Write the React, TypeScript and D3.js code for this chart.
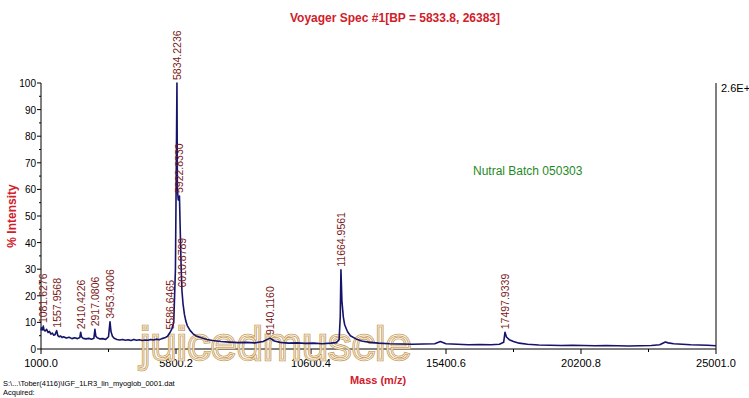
import React from 'react';
import { scaleLinear, line, range } from 'd3';

// spectrum trace (mass, % intensity)
const masses = [
    1000, 1020, 1050, 1081.6, 1110, 1150, 1200, 1250, 1300, 1350, 1400, 1450, 1500,
    1557.9, 1600, 1650, 1700, 1750, 1800, 1900, 2000, 2100, 2200, 2300, 2380, 2410.4,
    2440, 2500, 2600, 2700, 2800, 2880, 2917.1, 2950, 3000, 3100, 3200, 3300, 3400,
    3453.4, 3490, 3540, 3600, 3700, 3800, 3900, 4000, 4100, 4200, 4300, 4400, 4500,
    4600, 4700, 4800, 4900, 5000, 5100, 5200, 5300, 5400, 5500, 5586.6, 5650, 5720,
    5780, 5800, 5834.2, 5850, 5880, 5922.8, 5950, 5980, 6010.9, 6050, 6100, 6150, 6200,
    6300, 6400, 6500, 6700, 6900, 7100, 7400, 7700, 8000, 8300, 8600, 8900, 9140.1,
    9300, 9500, 9800, 10100, 10400, 10700, 11000, 11300, 11500, 11600, 11640, 11664.9,
    11700, 11750, 11800, 11900, 12000, 12200, 12400, 12700, 13000, 13400, 13800, 14200,
    14600, 15000, 15200, 15400, 15800, 16200, 16600, 17000, 17300, 17450, 17497.9,
    17550, 17650, 17800, 18000, 18300, 18700, 19100, 19500, 19900, 20300, 20700, 21100,
    21500, 21900, 22300, 22700, 23000, 23200, 23300, 23500, 23800, 24100, 24400, 24700,
    25001,
];
const intensities = [
    7.0, 8.0, 7.2, 8.6, 7.0, 6.8, 7.4, 6.2, 6.6, 5.6, 6.0, 5.2, 5.4,
    6.9, 5.0, 4.6, 4.9, 4.3, 4.6, 4.1, 4.4, 3.9, 4.2, 3.9, 4.3, 6.3,
    4.6, 4.0, 3.8, 4.0, 3.7, 4.0, 7.4, 4.8, 4.2, 3.8, 3.9, 3.6, 4.6,
    10.2, 6.5, 4.8, 4.0, 3.6, 3.4, 3.6, 3.3, 3.5, 3.2, 3.6, 3.3, 3.5,
    3.2, 3.4, 3.3, 3.6, 3.4, 3.7, 3.5, 3.9, 4.2, 4.8, 6.2, 7.5, 10,
    30, 55, 100, 60, 56, 57.5, 45, 32, 22, 17, 13, 10.5, 8.8,
    7.0, 5.8, 5.0, 4.2, 3.6, 3.2, 2.8, 2.6, 2.4, 2.5, 2.3, 2.8, 4.1,
    3.0, 2.5, 2.2, 2.3, 2.1, 2.2, 2.0, 2.2, 2.4, 3.5, 12, 29.8,
    18, 12, 9, 6.5, 5.0, 3.8, 3.0, 2.5, 2.2, 2.0, 1.9, 1.8,
    1.9, 2.0, 2.8, 2.0, 1.8, 1.6, 1.7, 1.6, 1.8, 2.5, 6.3,
    4.5, 3.5, 2.8, 2.2, 1.8, 1.5, 1.4, 1.3, 1.4, 1.3, 1.2, 1.3,
    1.2, 1.1, 1.2, 1.3, 1.6, 2.6, 2.3, 2.0, 1.8, 1.6, 1.5, 1.4,
    1.2,
];

// labelled peaks
const peakLabels = [
    '1081.6276', '1557.9568', '2410.4226', '2917.0806', '3453.4006', '5586.6465',
    '5834.2236', '5922.8330', '6010.8789', '9140.1160', '11664.9561', '17497.9339',
];
const peakHeights = [8.6, 6.9, 6.3, 7.4, 10.2, 6.2, 100, 57.5, 22, 4.1, 29.8, 6.3];

const xTicks = [1000.0, 5800.2, 10600.4, 15400.6, 20200.8, 25001.0];
const yTicks = [0, 10, 20, 30, 40, 50, 60, 70, 80, 90, 100];

const FONT = '"Liberation Sans", Arial, Helvetica, sans-serif';

export default function App() {
    const W = 749;
    const H = 398;
    const left = 41;
    const right = 716;
    const top = 83;
    const bottom = 349;

    const x = scaleLinear().domain([1000, 25001]).range([left, right]);
    const y = scaleLinear().domain([0, 100]).range([bottom, top]);

    const pts = masses.map((m, i) => [m, intensities[i]] as [number, number]);
    const path = line<[number, number]>()
        .x(d => x(d[0]))
        .y(d => y(d[1]))(pts);

    const minorX = xTicks.slice(0, -1).map((t, i) => (t + xTicks[i + 1]) / 2);
    const minorY = range(5, 100, 10);

    return (
        <div style={{ position: 'absolute', left: 0, top: 0 }}>
            <svg width={W} height={H} style={{ display: 'block', background: '#fff' }}>
                {/* title */}
                <text x={395} y={22} textAnchor="middle" fill="#d0202a"
                    fontFamily={FONT} fontSize={12} fontWeight="bold">
                    Voyager Spec #1[BP = 5833.8, 26383]
                </text>

                {/* axes */}
                <line x1={left} x2={left} y1={top} y2={bottom} stroke="#000" />
                <line x1={right} x2={right} y1={top} y2={bottom} stroke="#000" />
                <line x1={left} x2={right} y1={bottom} y2={bottom} stroke="#000" />

                {yTicks.map(t => (
                    <g key={'y' + t}>
                        <line x1={left - 4} x2={left} y1={y(t)} y2={y(t)} stroke="#000" />
                        <text x={left - 5} y={y(t) + 4} textAnchor="end"
                            fontFamily={FONT} fontSize={10} fill="#000">{t}</text>
                    </g>
                ))}
                {minorY.map(t => (
                    <line key={'my' + t} x1={left - 2} x2={left} y1={y(t)} y2={y(t)} stroke="#000" />
                ))}
                {xTicks.map(t => (
                    <g key={'x' + t}>
                        <line x1={x(t)} x2={x(t)} y1={bottom} y2={bottom + 5} stroke="#000" />
                        <text x={x(t)} y={bottom + 18} textAnchor="middle"
                            fontFamily={FONT} fontSize={11} fill="#000">{t.toFixed(1)}</text>
                    </g>
                ))}
                {minorX.map(t => (
                    <line key={'mx' + t} x1={x(t)} x2={x(t)} y1={bottom} y2={bottom + 3} stroke="#000" />
                ))}

                {/* axis titles */}
                <text transform={`translate(16,${(top + bottom) / 2}) rotate(-90)`}
                    textAnchor="middle" fill="#d0202a" fontFamily={FONT}
                    fontSize={12} fontWeight="bold">% Intensity</text>
                <text x={378} y={384} textAnchor="middle" fill="#d0202a"
                    fontFamily={FONT} fontSize={11} fontWeight="bold">Mass (m/z)</text>
                <text x={721} y={92} fontFamily={FONT} fontSize={11} fill="#000">2.6E+4</text>

                {/* annotation */}
                <text x={473} y={175} fill="#1f8a1f" fontFamily={FONT} fontSize={12}>
                    Nutral Batch 050303
                </text>

                {/* watermark */}
                <text x={140} y={360} fontFamily={FONT} fontSize={47}
                    fill="rgba(255,255,255,0.35)" stroke="#c49a5c" strokeWidth={2.4}>
                    juicedmuscle
                </text>
                <text x={140} y={360} fontFamily={FONT} fontSize={47}
                    fill="none" stroke="#fbf1df" strokeWidth={0.8}>
                    juicedmuscle
                </text>

                {/* spectrum */}
                <path d={path || ''} fill="none" stroke="#14146a" strokeWidth={1.6}
                    strokeLinejoin="round" />

                {/* peak labels */}
                {peakLabels.map((lab, i) => {
                    const px = x(parseFloat(lab)) + 4;
                    const py = y(peakHeights[i]) - 3;
                    return (
                        <text key={lab} transform={`translate(${px},${py}) rotate(-90)`}
                            fontFamily={FONT} fontSize={10.5} fill="#7a1a22">{lab}</text>
                    );
                })}

                {/* file info */}
                <text x={3} y={386} fontFamily={FONT} fontSize={7.5} fill="#000">
                    {'S:\\...\\Tober(4116)\\IGF_1LR3_lin_myoglob_0001.dat'}
                </text>
                <text x={3} y={395} fontFamily={FONT} fontSize={7.5} fill="#000">Acquired:</text>
            </svg>
        </div>
    );
}
